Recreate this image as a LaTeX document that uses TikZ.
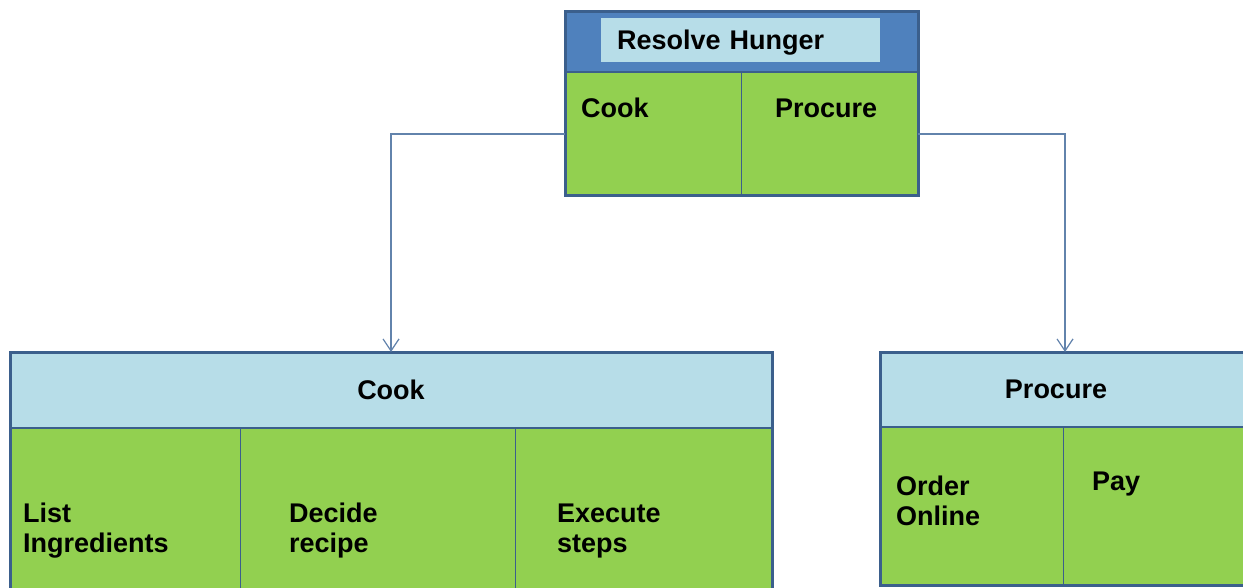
\documentclass[tikz,border=0pt]{standalone}
\usepackage{fontspec}
\setmainfont{Liberation Sans}
\usepackage{xcolor}
\usepackage{tikz}
\usetikzlibrary{arrows.meta, positioning}
\definecolor{cellgreen}{HTML}{92D050}
\definecolor{paleblue}{HTML}{B7DDE8}
\definecolor{bandblue}{HTML}{4F81BD}
\definecolor{edgeblue}{HTML}{3B5F8C}
\definecolor{linkblue}{HTML}{6283AC}
\tikzstyle{band} = [rectangle, draw=edgeblue, line width=2.5pt, fill=bandblue, inner sep=0pt, outer sep=0pt]
\tikzstyle{title} = [rectangle, fill=paleblue, inner sep=0pt, outer sep=0pt, text depth=0pt, font=\bfseries\fontsize{27}{30}\selectfont]
\tikzstyle{header} = [rectangle, draw=edgeblue, line width=2.5pt, fill=paleblue, inner sep=0pt, outer sep=0pt, font=\bfseries\fontsize{27}{30}\selectfont]
\tikzstyle{cell} = [rectangle, draw=edgeblue, line width=1pt, fill=cellgreen, inner sep=0pt, outer sep=0pt]
\tikzstyle{txt} = [font=\bfseries\fontsize{27}{30}\selectfont, align=left, inner sep=0pt, anchor=west]
\tikzstyle{frame} = [draw=edgeblue, line width=3pt]
\tikzstyle{arrow} = [linkblue, line width=1.2pt, -{Straight Barb[length=12pt, width=16pt]}]

\begin{document}
\begin{tikzpicture}[x=1pt, y=-1pt]
    \useasboundingbox (0,0) rectangle (1243,588);

    \node[cell, anchor=north west, minimum width=176pt, minimum height=124pt] (rcook) at (565,72) {};
    \node[cell, minimum width=177pt, minimum height=124pt, right=0pt of rcook] (rproc) {};
    \node[band, minimum width=353pt, minimum height=60pt] (band) at (741.5,42) {};
    \node[title, minimum height=44pt, inner xsep=16pt, text width=247pt, align=left] (goal) at (740.5,40) {Resolve Hunger};
    \draw[frame] (band.north west) rectangle (rproc.south east);

    \node[cell, anchor=north west, minimum width=230pt, minimum height=164pt] (list) at (10,428) {};
    \node[cell, minimum width=275pt, minimum height=164pt, right=0pt of list] (decide) {};
    \node[cell, minimum width=257pt, minimum height=164pt, right=0pt of decide] (execute) {};
    \node[header, minimum width=762pt, minimum height=76pt] (cook) at (391,390) {Cook};
    \draw[frame] (cook.north west) rectangle (execute.south east);

    \node[cell, anchor=north west, minimum width=183pt, minimum height=158pt] (order) at (880,427) {};
    \node[cell, minimum width=187pt, minimum height=158pt, right=0pt of order] (pay) {};
    \node[header, minimum width=370pt, minimum height=75pt] (proc) at (1065,389.5) {\hspace*{-18pt}Procure};
    \draw[frame] (proc.north west) rectangle (pay.south east);

    \node[txt] (tcook) at ([shift={(16,36)}]rcook.north west) {Cook};
    \node[txt] (tproc) at ([shift={(34,36)}]rproc.north west) {Procure};
    \node[txt] (tlist) at ([shift={(13,103)}]list.north west) {List\\Ingredients};
    \node[txt] (tdecide) at ([shift={(49,103)}]decide.north west) {Decide\\recipe};
    \node[txt] (texec) at ([shift={(42,103)}]execute.north west) {Execute\\steps};
    \node[txt] (torder) at ([shift={(16,74)}]order.north west) {Order\\Online};
    \node[txt] (tpay) at ([shift={(29,57)}]pay.north west) {Pay};

    \draw[arrow] (rcook.west) -| (cook.north);
    \draw[arrow] (rproc.east) -| (proc.north);
\end{tikzpicture}
\end{document}
